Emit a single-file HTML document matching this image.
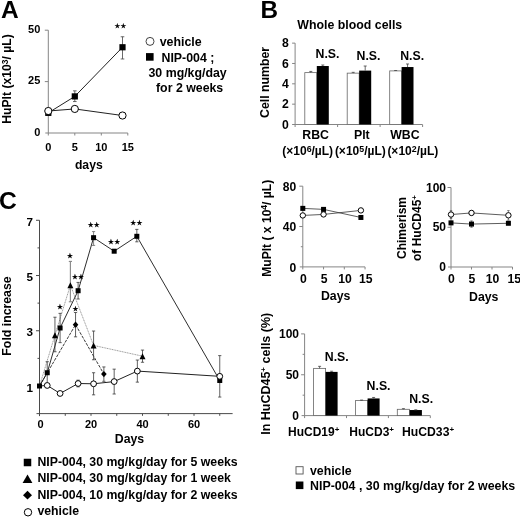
<!DOCTYPE html>
<html><head><meta charset="utf-8"><title>Figure</title>
<style>
html,body{margin:0;padding:0;background:#fff;}
svg{display:block;font-family:"Liberation Sans", Arial, sans-serif;will-change:transform;transform:translateZ(0);}
text{fill:#000;}
</style></head><body>
<svg width="520" height="517" viewBox="0 0 520 517">
<rect width="520" height="517" fill="#fff"/>
<text x="0.90" y="18.00" font-size="24.5" font-weight="bold" text-anchor="start" >A</text>
<line x1="48.30" y1="30.20" x2="48.30" y2="135.50" stroke="#858585" stroke-width="1.0" />
<line x1="45.30" y1="133.00" x2="127.80" y2="133.00" stroke="#858585" stroke-width="1.0" />
<line x1="44.80" y1="81.60" x2="48.30" y2="81.60" stroke="#858585" stroke-width="1.0" />
<line x1="44.80" y1="30.20" x2="48.30" y2="30.20" stroke="#858585" stroke-width="1.0" />
<line x1="74.80" y1="133.00" x2="74.80" y2="135.50" stroke="#858585" stroke-width="1.0" />
<line x1="101.30" y1="133.00" x2="101.30" y2="135.50" stroke="#858585" stroke-width="1.0" />
<line x1="127.80" y1="133.00" x2="127.80" y2="135.50" stroke="#858585" stroke-width="1.0" />
<text x="40.30" y="135.80" font-size="11" font-weight="bold" text-anchor="end" >0</text>
<text x="40.30" y="84.40" font-size="11" font-weight="bold" text-anchor="end" >25</text>
<text x="40.30" y="33.00" font-size="11" font-weight="bold" text-anchor="end" >50</text>
<text x="48.30" y="151.10" font-size="11" font-weight="bold" text-anchor="middle" >0</text>
<text x="74.80" y="151.10" font-size="11" font-weight="bold" text-anchor="middle" >5</text>
<text x="101.30" y="151.10" font-size="11" font-weight="bold" text-anchor="middle" >10</text>
<text x="127.80" y="151.10" font-size="11" font-weight="bold" text-anchor="middle" >15</text>
<text x="88.80" y="169.00" font-size="12.2" font-weight="bold" text-anchor="middle" >days</text>
<text transform="translate(11.30,79.00) rotate(-90)" font-size="12.2" font-weight="bold" text-anchor="middle">HuPlt (x10<tspan font-size='8.5' dy='-3.8'>3</tspan><tspan dy='3.8'>/ µL)</tspan></text>
<polyline points="48.30,112.85 74.80,96.40 122.50,47.26" fill="none" stroke="#222" stroke-width="1" />
<polyline points="48.30,111.00 74.80,108.94 122.50,115.52" fill="none" stroke="#222" stroke-width="1" />
<line x1="74.80" y1="90.85" x2="74.80" y2="101.54" stroke="#444" stroke-width="0.8" />
<line x1="73.00" y1="90.85" x2="76.60" y2="90.85" stroke="#444" stroke-width="0.8" />
<line x1="73.00" y1="101.54" x2="76.60" y2="101.54" stroke="#444" stroke-width="0.8" />
<line x1="122.50" y1="36.78" x2="122.50" y2="58.98" stroke="#444" stroke-width="0.8" />
<line x1="120.70" y1="36.78" x2="124.30" y2="36.78" stroke="#444" stroke-width="0.8" />
<line x1="120.70" y1="58.98" x2="124.30" y2="58.98" stroke="#444" stroke-width="0.8" />
<rect x="45.20" y="109.75" width="6.2" height="6.2" fill="#000"/>
<rect x="71.70" y="93.30" width="6.2" height="6.2" fill="#000"/>
<rect x="119.40" y="44.16" width="6.2" height="6.2" fill="#000"/>
<circle cx="48.30" cy="111.00" r="3.6" fill="#fff" stroke="#000" stroke-width="1"/>
<circle cx="74.80" cy="108.94" r="3.6" fill="#fff" stroke="#000" stroke-width="1"/>
<circle cx="122.50" cy="115.52" r="3.6" fill="#fff" stroke="#000" stroke-width="1"/>
<text x="120.60" y="28.10" font-size="6.4" letter-spacing="0.3" text-anchor="middle" font-family="DejaVu Sans, sans-serif" font-weight="normal" stroke="#000" stroke-width="0.3" stroke-linejoin="miter">★★</text>
<circle cx="150" cy="41.4" r="4" fill="#fff" stroke="#3a3a3a" stroke-width="0.95"/>
<rect x="146.00" y="53.10" width="7.6" height="7.6" fill="#000"/>
<text x="159.70" y="45.80" font-size="12.4" font-weight="bold" text-anchor="start" >vehicle</text>
<text x="161.50" y="61.90" font-size="12.35" font-weight="bold" text-anchor="start" >NIP-004 ;</text>
<text x="148.50" y="76.90" font-size="12.35" font-weight="bold" text-anchor="start" >30 mg/kg/day</text>
<text x="156.00" y="91.70" font-size="12.35" font-weight="bold" text-anchor="start" >for 2 weeks</text>
<text x="260.40" y="18.20" font-size="24.3" font-weight="bold" text-anchor="start" >B</text>
<text x="297.30" y="28.80" font-size="12.35" font-weight="bold" text-anchor="start" >Whole blood cells</text>
<line x1="295.10" y1="43.14" x2="295.10" y2="127.00" stroke="#858585" stroke-width="1.0" />
<line x1="292.10" y1="124.50" x2="422.50" y2="124.50" stroke="#858585" stroke-width="1.0" />
<line x1="292.10" y1="104.16" x2="295.10" y2="104.16" stroke="#858585" stroke-width="1.0" />
<line x1="292.10" y1="83.82" x2="295.10" y2="83.82" stroke="#858585" stroke-width="1.0" />
<line x1="292.10" y1="63.48" x2="295.10" y2="63.48" stroke="#858585" stroke-width="1.0" />
<line x1="292.10" y1="43.14" x2="295.10" y2="43.14" stroke="#858585" stroke-width="1.0" />
<line x1="337.60" y1="124.50" x2="337.60" y2="127.00" stroke="#858585" stroke-width="1.0" />
<line x1="380.10" y1="124.50" x2="380.10" y2="127.00" stroke="#858585" stroke-width="1.0" />
<line x1="422.60" y1="124.50" x2="422.60" y2="127.00" stroke="#858585" stroke-width="1.0" />
<text x="288.90" y="128.80" font-size="12.2" font-weight="bold" text-anchor="end" >0</text>
<text x="288.90" y="108.46" font-size="12.2" font-weight="bold" text-anchor="end" >2</text>
<text x="288.90" y="88.12" font-size="12.2" font-weight="bold" text-anchor="end" >4</text>
<text x="288.90" y="67.78" font-size="12.2" font-weight="bold" text-anchor="end" >6</text>
<text x="288.90" y="47.44" font-size="12.2" font-weight="bold" text-anchor="end" >8</text>
<text transform="translate(268.80,82.40) rotate(-90)" font-size="12.3" font-weight="bold" text-anchor="middle">Cell number</text>
<rect x="304.80" y="72.63" width="12.00" height="51.87" fill="#fff" stroke="#666" stroke-width="0.8"/>
<rect x="316.80" y="66.02" width="12.00" height="58.48" fill="#000"/>
<line x1="310.80" y1="72.63" x2="310.80" y2="71.41" stroke="#444" stroke-width="0.8" />
<line x1="309.30" y1="71.41" x2="312.30" y2="71.41" stroke="#444" stroke-width="0.8" />
<line x1="322.80" y1="66.02" x2="322.80" y2="65.01" stroke="#444" stroke-width="0.8" />
<line x1="321.30" y1="65.01" x2="324.30" y2="65.01" stroke="#444" stroke-width="0.8" />
<rect x="347.20" y="73.14" width="12.00" height="51.36" fill="#fff" stroke="#666" stroke-width="0.8"/>
<rect x="359.20" y="70.60" width="12.00" height="53.90" fill="#000"/>
<line x1="353.20" y1="73.14" x2="353.20" y2="72.33" stroke="#444" stroke-width="0.8" />
<line x1="351.70" y1="72.33" x2="354.70" y2="72.33" stroke="#444" stroke-width="0.8" />
<line x1="365.20" y1="70.60" x2="365.20" y2="66.02" stroke="#444" stroke-width="0.8" />
<line x1="363.70" y1="66.02" x2="366.70" y2="66.02" stroke="#444" stroke-width="0.8" />
<rect x="389.70" y="70.90" width="11.90" height="53.60" fill="#fff" stroke="#666" stroke-width="0.8"/>
<rect x="401.60" y="67.04" width="11.90" height="57.46" fill="#000"/>
<line x1="395.65" y1="70.90" x2="395.65" y2="70.50" stroke="#444" stroke-width="0.8" />
<line x1="394.15" y1="70.50" x2="397.15" y2="70.50" stroke="#444" stroke-width="0.8" />
<line x1="407.55" y1="67.04" x2="407.55" y2="63.99" stroke="#444" stroke-width="0.8" />
<line x1="406.05" y1="63.99" x2="409.05" y2="63.99" stroke="#444" stroke-width="0.8" />
<text x="315.50" y="57.80" font-size="12.3" font-weight="bold" text-anchor="start" >N.S.</text>
<text x="356.50" y="60.30" font-size="12.3" font-weight="bold" text-anchor="start" >N.S.</text>
<text x="400.20" y="60.30" font-size="12.3" font-weight="bold" text-anchor="start" >N.S.</text>
<text x="315.60" y="139.30" font-size="12.3" font-weight="bold" text-anchor="middle" >RBC</text>
<text x="361.80" y="139.30" font-size="12.3" font-weight="bold" text-anchor="middle" >Plt</text>
<text x="404.90" y="139.30" font-size="12.3" font-weight="bold" text-anchor="middle" >WBC</text>
<text x="307.70" y="155.20" font-size="12.0" font-weight="bold" text-anchor="middle" >(×10<tspan font-size='8.8' dy='-3.4'>6</tspan><tspan dy='3.4'>/µL)</tspan></text>
<text x="360.30" y="155.20" font-size="12.0" font-weight="bold" text-anchor="middle" >(×10<tspan font-size='8.8' dy='-3.4'>5</tspan><tspan dy='3.4'>/µL)</tspan></text>
<text x="412.80" y="155.20" font-size="12.0" font-weight="bold" text-anchor="middle" >(×10<tspan font-size='8.8' dy='-3.4'>2</tspan><tspan dy='3.4'>/µL)</tspan></text>
<line x1="302.80" y1="186.18" x2="302.80" y2="269.40" stroke="#858585" stroke-width="1.0" />
<line x1="299.80" y1="266.90" x2="365.05" y2="266.90" stroke="#858585" stroke-width="1.0" />
<line x1="299.30" y1="226.54" x2="302.80" y2="226.54" stroke="#858585" stroke-width="1.0" />
<line x1="299.30" y1="186.18" x2="302.80" y2="186.18" stroke="#858585" stroke-width="1.0" />
<line x1="300.80" y1="246.72" x2="302.80" y2="246.72" stroke="#858585" stroke-width="1.0" />
<line x1="300.80" y1="206.36" x2="302.80" y2="206.36" stroke="#858585" stroke-width="1.0" />
<line x1="323.55" y1="266.90" x2="323.55" y2="269.40" stroke="#858585" stroke-width="1.0" />
<line x1="344.30" y1="266.90" x2="344.30" y2="269.40" stroke="#858585" stroke-width="1.0" />
<line x1="365.05" y1="266.90" x2="365.05" y2="269.40" stroke="#858585" stroke-width="1.0" />
<text x="296.30" y="271.80" font-size="12.1" font-weight="bold" text-anchor="end" >0</text>
<text x="296.30" y="231.44" font-size="12.1" font-weight="bold" text-anchor="end" >40</text>
<text x="296.30" y="191.08" font-size="12.1" font-weight="bold" text-anchor="end" >80</text>
<text x="303.50" y="283.30" font-size="12.2" font-weight="bold" text-anchor="middle" >0</text>
<text x="324.25" y="283.30" font-size="12.2" font-weight="bold" text-anchor="middle" >5</text>
<text x="345.00" y="283.30" font-size="12.2" font-weight="bold" text-anchor="middle" >10</text>
<text x="365.75" y="283.30" font-size="12.2" font-weight="bold" text-anchor="middle" >15</text>
<text x="335.62" y="300.00" font-size="12.3" font-weight="bold" text-anchor="middle" >Days</text>
<text transform="translate(271.00,228.30) rotate(-90)" font-size="12.1" font-weight="bold" text-anchor="middle">MuPlt ( x 10<tspan font-size='8.5' dy='-3.8'>4</tspan><tspan dy='3.8'>/ µL)</tspan></text>
<polyline points="302.80,208.38 323.55,209.39 360.90,217.46" fill="none" stroke="#333" stroke-width="0.8" />
<polyline points="302.80,215.44 323.55,214.43 360.90,210.40" fill="none" stroke="#333" stroke-width="0.8" />
<rect x="300.30" y="205.88" width="5" height="5" fill="#000"/>
<rect x="321.05" y="206.89" width="5" height="5" fill="#000"/>
<rect x="358.40" y="214.96" width="5" height="5" fill="#000"/>
<circle cx="302.80" cy="215.44" r="2.7" fill="#fff" stroke="#000" stroke-width="1"/>
<circle cx="323.55" cy="214.43" r="2.7" fill="#fff" stroke="#000" stroke-width="1"/>
<circle cx="360.90" cy="210.40" r="2.7" fill="#fff" stroke="#000" stroke-width="1"/>
<line x1="451.00" y1="187.50" x2="451.00" y2="269.50" stroke="#858585" stroke-width="1.0" />
<line x1="448.00" y1="267.00" x2="512.50" y2="267.00" stroke="#858585" stroke-width="1.0" />
<line x1="447.50" y1="227.25" x2="451.00" y2="227.25" stroke="#858585" stroke-width="1.0" />
<line x1="447.50" y1="187.50" x2="451.00" y2="187.50" stroke="#858585" stroke-width="1.0" />
<line x1="471.50" y1="267.00" x2="471.50" y2="269.50" stroke="#858585" stroke-width="1.0" />
<line x1="492.00" y1="267.00" x2="492.00" y2="269.50" stroke="#858585" stroke-width="1.0" />
<line x1="512.50" y1="267.00" x2="512.50" y2="269.50" stroke="#858585" stroke-width="1.0" />
<text x="446.00" y="271.20" font-size="12" font-weight="bold" text-anchor="end" >0</text>
<text x="446.00" y="231.45" font-size="12" font-weight="bold" text-anchor="end" >50</text>
<text x="446.00" y="191.70" font-size="12" font-weight="bold" text-anchor="end" >100</text>
<text x="451.50" y="283.40" font-size="12.2" font-weight="bold" text-anchor="middle" >0</text>
<text x="472.00" y="283.40" font-size="12.2" font-weight="bold" text-anchor="middle" >5</text>
<text x="492.50" y="283.40" font-size="12.2" font-weight="bold" text-anchor="middle" >10</text>
<text x="514.30" y="283.40" font-size="12.2" font-weight="bold" text-anchor="middle" >15</text>
<text x="483.75" y="300.60" font-size="12.3" font-weight="bold" text-anchor="middle" >Days</text>
<text transform="translate(405.50,228.00) rotate(-90)" font-size="12" font-weight="bold" text-anchor="middle">Chimerism</text>
<text transform="translate(421.00,228.00) rotate(-90)" font-size="12" font-weight="bold" text-anchor="middle">of HuCD45<tspan font-size='8' dy='-4'>+</tspan></text>
<polyline points="451.00,222.88 471.50,224.07 508.40,223.28" fill="none" stroke="#333" stroke-width="0.8" />
<polyline points="451.00,214.53 471.50,212.94 508.40,215.32" fill="none" stroke="#333" stroke-width="0.8" />
<line x1="451.00" y1="210.56" x2="451.00" y2="218.50" stroke="#555" stroke-width="0.7" />
<line x1="449.80" y1="210.56" x2="452.20" y2="210.56" stroke="#555" stroke-width="0.7" />
<line x1="449.80" y1="218.50" x2="452.20" y2="218.50" stroke="#555" stroke-width="0.7" />
<line x1="471.50" y1="210.56" x2="471.50" y2="215.32" stroke="#555" stroke-width="0.7" />
<line x1="470.30" y1="210.56" x2="472.70" y2="210.56" stroke="#555" stroke-width="0.7" />
<line x1="470.30" y1="215.32" x2="472.70" y2="215.32" stroke="#555" stroke-width="0.7" />
<line x1="508.40" y1="210.56" x2="508.40" y2="220.09" stroke="#555" stroke-width="0.7" />
<line x1="507.20" y1="210.56" x2="509.60" y2="210.56" stroke="#555" stroke-width="0.7" />
<line x1="507.20" y1="220.09" x2="509.60" y2="220.09" stroke="#555" stroke-width="0.7" />
<line x1="471.50" y1="220.89" x2="471.50" y2="227.25" stroke="#555" stroke-width="0.7" />
<line x1="470.30" y1="220.89" x2="472.70" y2="220.89" stroke="#555" stroke-width="0.7" />
<line x1="470.30" y1="227.25" x2="472.70" y2="227.25" stroke="#555" stroke-width="0.7" />
<rect x="448.50" y="220.38" width="5" height="5" fill="#000"/>
<rect x="469.00" y="221.57" width="5" height="5" fill="#000"/>
<rect x="505.90" y="220.78" width="5" height="5" fill="#000"/>
<circle cx="451.00" cy="214.53" r="2.7" fill="#fff" stroke="#000" stroke-width="1"/>
<circle cx="471.50" cy="212.94" r="2.7" fill="#fff" stroke="#000" stroke-width="1"/>
<circle cx="508.40" cy="215.32" r="2.7" fill="#fff" stroke="#000" stroke-width="1"/>
<line x1="304.60" y1="333.90" x2="304.60" y2="418.10" stroke="#858585" stroke-width="1.0" />
<line x1="301.60" y1="415.60" x2="430.30" y2="415.60" stroke="#858585" stroke-width="1.0" />
<line x1="301.10" y1="374.75" x2="304.60" y2="374.75" stroke="#858585" stroke-width="1.0" />
<line x1="301.10" y1="333.90" x2="304.60" y2="333.90" stroke="#858585" stroke-width="1.0" />
<line x1="302.60" y1="395.18" x2="304.60" y2="395.18" stroke="#858585" stroke-width="1.0" />
<line x1="302.60" y1="354.33" x2="304.60" y2="354.33" stroke="#858585" stroke-width="1.0" />
<line x1="346.50" y1="415.60" x2="346.50" y2="418.10" stroke="#858585" stroke-width="1.0" />
<line x1="388.40" y1="415.60" x2="388.40" y2="418.10" stroke="#858585" stroke-width="1.0" />
<line x1="430.30" y1="415.60" x2="430.30" y2="418.10" stroke="#858585" stroke-width="1.0" />
<text x="299.00" y="419.90" font-size="12" font-weight="bold" text-anchor="end" >0</text>
<text x="299.00" y="379.05" font-size="12" font-weight="bold" text-anchor="end" >50</text>
<text x="299.00" y="338.20" font-size="12" font-weight="bold" text-anchor="end" >100</text>
<text transform="translate(269.50,373.80) rotate(-90)" font-size="12.5" font-weight="bold" text-anchor="middle">In HuCD45<tspan font-size='8' dy='-4'>+</tspan><tspan dy='4'> cells (%)</tspan></text>
<rect x="313.60" y="368.38" width="12.00" height="47.22" fill="#fff" stroke="#666" stroke-width="0.8"/>
<rect x="325.60" y="371.89" width="12.00" height="43.71" fill="#000"/>
<line x1="319.60" y1="368.38" x2="319.60" y2="366.33" stroke="#444" stroke-width="0.8" />
<line x1="318.10" y1="366.33" x2="321.10" y2="366.33" stroke="#444" stroke-width="0.8" />
<line x1="331.60" y1="371.89" x2="331.60" y2="371.24" stroke="#444" stroke-width="0.8" />
<line x1="330.10" y1="371.24" x2="333.10" y2="371.24" stroke="#444" stroke-width="0.8" />
<rect x="355.60" y="400.49" width="12.00" height="15.11" fill="#fff" stroke="#666" stroke-width="0.8"/>
<rect x="367.60" y="398.44" width="12.00" height="17.16" fill="#000"/>
<line x1="361.60" y1="400.49" x2="361.60" y2="400.08" stroke="#444" stroke-width="0.8" />
<line x1="360.10" y1="400.08" x2="363.10" y2="400.08" stroke="#444" stroke-width="0.8" />
<line x1="373.60" y1="398.44" x2="373.60" y2="397.46" stroke="#444" stroke-width="0.8" />
<line x1="372.10" y1="397.46" x2="375.10" y2="397.46" stroke="#444" stroke-width="0.8" />
<rect x="397.30" y="409.31" width="12.30" height="6.29" fill="#fff" stroke="#666" stroke-width="0.8"/>
<rect x="409.60" y="410.04" width="12.30" height="5.56" fill="#000"/>
<line x1="403.45" y1="409.31" x2="403.45" y2="408.66" stroke="#444" stroke-width="0.8" />
<line x1="401.95" y1="408.66" x2="404.95" y2="408.66" stroke="#444" stroke-width="0.8" />
<line x1="415.75" y1="410.04" x2="415.75" y2="409.80" stroke="#444" stroke-width="0.8" />
<line x1="414.25" y1="409.80" x2="417.25" y2="409.80" stroke="#444" stroke-width="0.8" />
<text x="324.80" y="360.60" font-size="12.3" font-weight="bold" text-anchor="start" >N.S.</text>
<text x="366.60" y="390.20" font-size="12.3" font-weight="bold" text-anchor="start" >N.S.</text>
<text x="409.20" y="402.80" font-size="12.3" font-weight="bold" text-anchor="start" >N.S.</text>
<text x="288.00" y="435.50" font-size="12" font-weight="bold" text-anchor="start" >HuCD19<tspan font-size='8' dy='-4'>+</tspan></text>
<text x="349.30" y="435.50" font-size="12" font-weight="bold" text-anchor="start" >HuCD3<tspan font-size='8' dy='-4'>+</tspan></text>
<text x="402.00" y="435.50" font-size="12.2" font-weight="bold" text-anchor="start" >HuCD33<tspan font-size='8' dy='-4'>+</tspan></text>
<rect x="296" y="466.7" width="7.1" height="7.3" fill="#fff" stroke="#555" stroke-width="0.9"/>
<rect x="295.80" y="481.50" width="7.6" height="7.6" fill="#000"/>
<text x="310.00" y="474.90" font-size="12.3" font-weight="bold" text-anchor="start" >vehicle</text>
<text x="310.00" y="489.70" font-size="12.4" font-weight="bold" text-anchor="start" >NIP-004 , 30 mg/kg/day for 2 weeks</text>
<text x="-1.00" y="208.50" font-size="24.6" font-weight="bold" text-anchor="start" >C</text>
<line x1="39.50" y1="220.28" x2="39.50" y2="416.12" stroke="#4a4a4a" stroke-width="1.0" />
<line x1="36.50" y1="413.62" x2="232.62" y2="413.62" stroke="#4a4a4a" stroke-width="1.0" />
<line x1="36.00" y1="330.76" x2="39.50" y2="330.76" stroke="#4a4a4a" stroke-width="1.0" />
<line x1="36.00" y1="275.52" x2="39.50" y2="275.52" stroke="#4a4a4a" stroke-width="1.0" />
<line x1="36.00" y1="220.28" x2="39.50" y2="220.28" stroke="#4a4a4a" stroke-width="1.0" />
<line x1="37.50" y1="358.38" x2="39.50" y2="358.38" stroke="#4a4a4a" stroke-width="1.0" />
<line x1="37.50" y1="303.14" x2="39.50" y2="303.14" stroke="#4a4a4a" stroke-width="1.0" />
<line x1="37.50" y1="247.90" x2="39.50" y2="247.90" stroke="#4a4a4a" stroke-width="1.0" />
<line x1="65.25" y1="413.62" x2="65.25" y2="415.82" stroke="#4a4a4a" stroke-width="1.0" />
<line x1="91.00" y1="413.62" x2="91.00" y2="415.82" stroke="#4a4a4a" stroke-width="1.0" />
<line x1="116.75" y1="413.62" x2="116.75" y2="415.82" stroke="#4a4a4a" stroke-width="1.0" />
<line x1="142.50" y1="413.62" x2="142.50" y2="415.82" stroke="#4a4a4a" stroke-width="1.0" />
<line x1="168.25" y1="413.62" x2="168.25" y2="415.82" stroke="#4a4a4a" stroke-width="1.0" />
<line x1="194.00" y1="413.62" x2="194.00" y2="415.82" stroke="#4a4a4a" stroke-width="1.0" />
<line x1="219.75" y1="413.62" x2="219.75" y2="415.82" stroke="#4a4a4a" stroke-width="1.0" />
<text x="32.90" y="391.70" font-size="11.7" font-weight="bold" text-anchor="end" >1</text>
<text x="32.90" y="336.46" font-size="11.7" font-weight="bold" text-anchor="end" >3</text>
<text x="32.90" y="281.22" font-size="11.7" font-weight="bold" text-anchor="end" >5</text>
<text x="32.90" y="225.98" font-size="11.7" font-weight="bold" text-anchor="end" >7</text>
<text x="40.50" y="428.42" font-size="11" font-weight="bold" text-anchor="middle" >0</text>
<text x="91.00" y="428.42" font-size="11" font-weight="bold" text-anchor="middle" >20</text>
<text x="142.50" y="428.42" font-size="11" font-weight="bold" text-anchor="middle" >40</text>
<text x="194.00" y="428.42" font-size="11" font-weight="bold" text-anchor="middle" >60</text>
<text x="129.46" y="443.20" font-size="12.3" font-weight="bold" text-anchor="middle" >Days</text>
<text transform="translate(11.30,316.00) rotate(-90)" font-size="12.3" font-weight="bold" text-anchor="middle">Fold increase</text>
<polyline points="39.50,386.00 54.95,335.18 70.40,285.19 93.58,345.40 142.50,356.17" fill="none" stroke="#808080" stroke-width="0.8" stroke-dasharray="1.1,0.6"/>
<polyline points="39.50,386.00 75.55,324.68 103.88,374.12" fill="none" stroke="#222" stroke-width="0.9" stroke-dasharray="3,1.2"/>
<polyline points="39.50,386.00 47.23,385.45 60.10,393.46 78.12,383.51 93.58,383.79 114.18,381.58 137.35,371.09 219.75,376.33" fill="none" stroke="#222" stroke-width="1" />
<polyline points="39.50,386.00 47.23,372.74 60.10,328.00 78.12,290.71 93.58,237.68 114.18,251.21 136.83,236.30 219.75,380.48" fill="none" stroke="#111" stroke-width="0.88" />
<line x1="47.23" y1="361.69" x2="47.23" y2="383.79" stroke="#383838" stroke-width="0.8" />
<line x1="45.62" y1="361.69" x2="48.83" y2="361.69" stroke="#383838" stroke-width="0.8" />
<line x1="45.62" y1="383.79" x2="48.83" y2="383.79" stroke="#383838" stroke-width="0.8" />
<line x1="60.10" y1="313.36" x2="60.10" y2="342.64" stroke="#383838" stroke-width="0.8" />
<line x1="58.50" y1="313.36" x2="61.70" y2="313.36" stroke="#383838" stroke-width="0.8" />
<line x1="58.50" y1="342.64" x2="61.70" y2="342.64" stroke="#383838" stroke-width="0.8" />
<line x1="78.12" y1="282.43" x2="78.12" y2="299.00" stroke="#383838" stroke-width="0.8" />
<line x1="76.53" y1="282.43" x2="79.72" y2="282.43" stroke="#383838" stroke-width="0.8" />
<line x1="76.53" y1="299.00" x2="79.72" y2="299.00" stroke="#383838" stroke-width="0.8" />
<line x1="93.58" y1="231.60" x2="93.58" y2="245.41" stroke="#666" stroke-width="0.8" />
<line x1="91.98" y1="231.60" x2="95.17" y2="231.60" stroke="#666" stroke-width="0.8" />
<line x1="91.98" y1="245.41" x2="95.17" y2="245.41" stroke="#666" stroke-width="0.8" />
<line x1="136.83" y1="229.39" x2="136.83" y2="241.82" stroke="#383838" stroke-width="0.8" />
<line x1="135.23" y1="229.39" x2="138.43" y2="229.39" stroke="#383838" stroke-width="0.8" />
<line x1="135.23" y1="241.82" x2="138.43" y2="241.82" stroke="#383838" stroke-width="0.8" />
<line x1="219.75" y1="355.62" x2="219.75" y2="397.05" stroke="#383838" stroke-width="0.8" />
<line x1="218.15" y1="355.62" x2="221.35" y2="355.62" stroke="#383838" stroke-width="0.8" />
<line x1="218.15" y1="397.05" x2="221.35" y2="397.05" stroke="#383838" stroke-width="0.8" />
<line x1="54.95" y1="317.23" x2="54.95" y2="351.75" stroke="#383838" stroke-width="0.8" />
<line x1="53.35" y1="317.23" x2="56.55" y2="317.23" stroke="#383838" stroke-width="0.8" />
<line x1="53.35" y1="351.75" x2="56.55" y2="351.75" stroke="#383838" stroke-width="0.8" />
<line x1="70.40" y1="261.43" x2="70.40" y2="301.76" stroke="#8a8a8a" stroke-width="1.15" />
<line x1="68.80" y1="261.43" x2="72.00" y2="261.43" stroke="#8a8a8a" stroke-width="1.15" />
<line x1="68.80" y1="301.76" x2="72.00" y2="301.76" stroke="#8a8a8a" stroke-width="1.15" />
<line x1="93.58" y1="331.04" x2="93.58" y2="359.76" stroke="#383838" stroke-width="0.8" />
<line x1="91.98" y1="331.04" x2="95.17" y2="331.04" stroke="#383838" stroke-width="0.8" />
<line x1="91.98" y1="359.76" x2="95.17" y2="359.76" stroke="#383838" stroke-width="0.8" />
<line x1="142.50" y1="350.09" x2="142.50" y2="362.25" stroke="#383838" stroke-width="0.8" />
<line x1="140.90" y1="350.09" x2="144.10" y2="350.09" stroke="#383838" stroke-width="0.8" />
<line x1="140.90" y1="362.25" x2="144.10" y2="362.25" stroke="#383838" stroke-width="0.8" />
<line x1="75.55" y1="312.53" x2="75.55" y2="336.84" stroke="#383838" stroke-width="0.8" />
<line x1="73.95" y1="312.53" x2="77.15" y2="312.53" stroke="#383838" stroke-width="0.8" />
<line x1="73.95" y1="336.84" x2="77.15" y2="336.84" stroke="#383838" stroke-width="0.8" />
<line x1="103.88" y1="366.94" x2="103.88" y2="381.30" stroke="#383838" stroke-width="0.8" />
<line x1="102.28" y1="366.94" x2="105.47" y2="366.94" stroke="#383838" stroke-width="0.8" />
<line x1="102.28" y1="381.30" x2="105.47" y2="381.30" stroke="#383838" stroke-width="0.8" />
<line x1="93.58" y1="372.74" x2="93.58" y2="394.84" stroke="#383838" stroke-width="0.8" />
<line x1="91.98" y1="372.74" x2="95.17" y2="372.74" stroke="#383838" stroke-width="0.8" />
<line x1="91.98" y1="394.84" x2="95.17" y2="394.84" stroke="#383838" stroke-width="0.8" />
<line x1="114.18" y1="369.15" x2="114.18" y2="394.01" stroke="#383838" stroke-width="0.8" />
<line x1="112.58" y1="369.15" x2="115.78" y2="369.15" stroke="#383838" stroke-width="0.8" />
<line x1="112.58" y1="394.01" x2="115.78" y2="394.01" stroke="#383838" stroke-width="0.8" />
<line x1="137.35" y1="360.04" x2="137.35" y2="382.13" stroke="#383838" stroke-width="0.8" />
<line x1="135.75" y1="360.04" x2="138.95" y2="360.04" stroke="#383838" stroke-width="0.8" />
<line x1="135.75" y1="382.13" x2="138.95" y2="382.13" stroke="#383838" stroke-width="0.8" />
<line x1="78.12" y1="380.20" x2="78.12" y2="386.83" stroke="#383838" stroke-width="0.8" />
<line x1="76.53" y1="380.20" x2="79.72" y2="380.20" stroke="#383838" stroke-width="0.8" />
<line x1="76.53" y1="386.83" x2="79.72" y2="386.83" stroke="#383838" stroke-width="0.8" />
<rect x="37.00" y="383.50" width="5" height="5" fill="#000"/>
<rect x="44.73" y="370.24" width="5" height="5" fill="#000"/>
<rect x="57.60" y="325.50" width="5" height="5" fill="#000"/>
<rect x="75.62" y="288.21" width="5" height="5" fill="#000"/>
<rect x="91.08" y="235.18" width="5" height="5" fill="#000"/>
<rect x="111.68" y="248.71" width="5" height="5" fill="#000"/>
<rect x="134.33" y="233.80" width="5" height="5" fill="#000"/>
<rect x="217.25" y="377.98" width="5" height="5" fill="#000"/>
<polygon points="54.95,332.18 57.95,338.18 51.95,338.18" fill="#000"/>
<polygon points="70.40,282.19 73.40,288.19 67.40,288.19" fill="#000"/>
<polygon points="93.58,342.40 96.58,348.40 90.58,348.40" fill="#000"/>
<polygon points="142.50,353.17 145.50,359.17 139.50,359.17" fill="#000"/>
<polygon points="75.55,321.58 78.35,324.68 75.55,327.78 72.75,324.68" fill="#000"/>
<polygon points="103.88,371.02 106.67,374.12 103.88,377.22 101.08,374.12" fill="#000"/>
<circle cx="47.23" cy="385.45" r="2.9" fill="#fff" stroke="#000" stroke-width="1"/>
<circle cx="60.10" cy="393.46" r="2.9" fill="#fff" stroke="#000" stroke-width="1"/>
<circle cx="78.12" cy="383.51" r="2.9" fill="#fff" stroke="#000" stroke-width="1"/>
<circle cx="93.58" cy="383.79" r="2.9" fill="#fff" stroke="#000" stroke-width="1"/>
<circle cx="114.18" cy="381.58" r="2.9" fill="#fff" stroke="#000" stroke-width="1"/>
<circle cx="137.35" cy="371.09" r="2.9" fill="#fff" stroke="#000" stroke-width="1"/>
<circle cx="219.75" cy="376.33" r="2.9" fill="#fff" stroke="#000" stroke-width="1"/>
<text x="60.10" y="308.50" font-size="6.6" letter-spacing="0.3" text-anchor="middle" font-family="DejaVu Sans, sans-serif" font-weight="normal" stroke="#000" stroke-width="0.3" stroke-linejoin="miter">★</text>
<text x="70.10" y="257.60" font-size="6.6" letter-spacing="0.3" text-anchor="middle" font-family="DejaVu Sans, sans-serif" font-weight="normal" stroke="#000" stroke-width="0.3" stroke-linejoin="miter">★</text>
<text x="75.55" y="311.00" font-size="6.6" letter-spacing="0.3" text-anchor="middle" font-family="DejaVu Sans, sans-serif" font-weight="normal" stroke="#000" stroke-width="0.3" stroke-linejoin="miter">★</text>
<text x="78.12" y="279.00" font-size="6.6" letter-spacing="0.3" text-anchor="middle" font-family="DejaVu Sans, sans-serif" font-weight="normal" stroke="#000" stroke-width="0.3" stroke-linejoin="miter">★★</text>
<text x="93.88" y="226.50" font-size="6.6" letter-spacing="0.3" text-anchor="middle" font-family="DejaVu Sans, sans-serif" font-weight="normal" stroke="#000" stroke-width="0.3" stroke-linejoin="miter">★★</text>
<text x="114.18" y="243.60" font-size="6.6" letter-spacing="0.3" text-anchor="middle" font-family="DejaVu Sans, sans-serif" font-weight="normal" stroke="#000" stroke-width="0.3" stroke-linejoin="miter">★★</text>
<text x="136.55" y="225.20" font-size="6.6" letter-spacing="0.3" text-anchor="middle" font-family="DejaVu Sans, sans-serif" font-weight="normal" stroke="#000" stroke-width="0.3" stroke-linejoin="miter">★★</text>
<rect x="23.75" y="458.75" width="7.5" height="7.5" fill="#000"/>
<polygon points="27.5,474.5 32.4,483 22.6,483" fill="#000"/>
<polygon points="27.50,490.80 32.00,495.20 27.50,499.60 23.00,495.20" fill="#000"/>
<circle cx="28.00" cy="512.30" r="3.7" fill="#fff" stroke="#000" stroke-width="1"/>
<text x="37.40" y="465.80" font-size="12.3" font-weight="bold" text-anchor="start" >NIP-004, 30 mg/kg/day for 5 weeks</text>
<text x="37.40" y="482.00" font-size="12.3" font-weight="bold" text-anchor="start" >NIP-004, 30 mg/kg/day for 1 week</text>
<text x="37.40" y="498.60" font-size="12.3" font-weight="bold" text-anchor="start" >NIP-004, 10 mg/kg/day for 2 weeks</text>
<text x="37.40" y="515.00" font-size="12.3" font-weight="bold" text-anchor="start" >vehicle</text>
</svg>
</body></html>
